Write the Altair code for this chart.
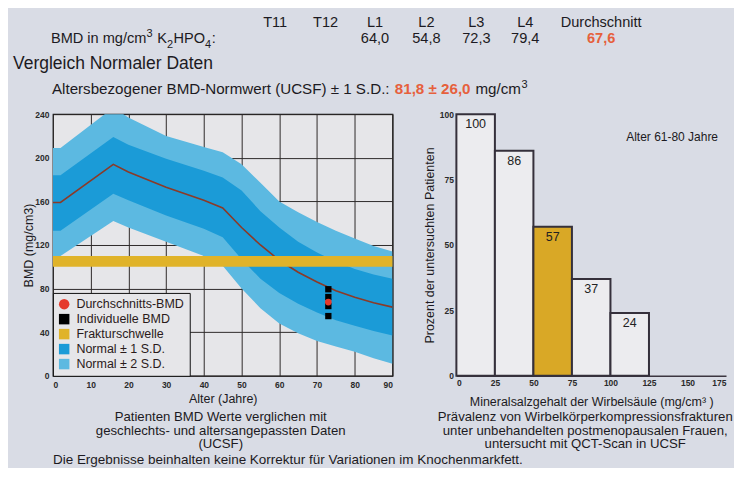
import altair as alt
import pandas as pd

FONT = "Liberation Sans, Arial, sans-serif"
BG = "#d9dce5"
PLOT_BG = "#e6e6e9"
TXT = "#1c1a22"
RED_TXT = "#e6603c"
SD1 = "#1b9bd7"
SD2 = "#5cb9e1"
YELLOW = "#e0b329"
MEAN = "#8b3a28"
RED_PT = "#e53a2c"
BAR_FILL = "#ececef"
BAR_HL = "#d9a826"
BAR_STROKE = "#35303b"

# ---------------- data ----------------
vertebrae = ["T11", "T12", "L1", "L2", "L3", "L4"]
vertebra_bmd = [None, None, 64.0, 54.8, 72.3, 79.4]
average_bmd = 67.6
norm_mean = 81.8
norm_sd = 26.0
patient_age = 73

ages = [0, 2, 16, 20, 30, 40, 45, 50, 55, 60, 65, 70, 75, 80, 85, 90]
mean_bmd = [159, 159, 194, 187, 173, 161, 154, 136, 120, 106, 95, 86, 78, 72, 67, 63]
sd1_high = [184, 184, 219, 212, 199, 188, 182, 170, 151, 136, 123, 113, 105, 98, 93, 89]
sd1_low = [133, 133, 167, 161, 147, 135, 127, 107, 89, 76, 66, 58, 51, 46, 41, 37]
sd2_high = [209, 209, 246, 237, 220, 210, 205, 194, 177, 160, 150, 141, 133, 126, 119, 114]
sd2_low = [110, 110, 142, 136, 123, 110, 101, 80, 62, 48, 39, 32, 27, 22, 16, 11]
fracture_low = 100
fracture_high = 110
age_range = [0, 90]

legend_labels = ["Durchschnitts-BMD", "Individuelle BMD", "Frakturschwelle",
                 "Normal \u00b1 1 S.D.", "Normal \u00b1 2 S.D."]
legend_colors = [RED_PT, "#000000", YELLOW, SD1, SD2]
legend_shapes = ["circle", "square", "square", "square", "square"]

bin_start = [0, 25, 50, 75, 100]
bin_end = [25, 50, 75, 100, 125]
prevalence = [100, 86, 57, 37, 24]
highlight_start = 50


def de(v):
    return f"{v:.1f}".replace(".", ",")


# Arial / Liberation Sans advance widths (1/1000 em) used to chain text pieces
ADV = {" ": 278, "(": 333, ")": 333, ",": 278, "-": 333, ".": 278, "/": 278, ":": 278,
       "\u00b1": 584, "A": 667, "B": 667, "C": 722, "D": 722, "F": 611, "H": 722, "K": 667,
       "M": 833, "N": 722, "O": 778, "P": 667, "S": 667, "U": 722, "a": 556, "b": 556,
       "c": 500, "e": 556, "g": 556, "i": 222, "l": 222, "m": 833, "n": 556, "o": 556,
       "r": 333, "s": 500, "t": 278, "w": 722, "z": 500}


def tw(s, size):
    return sum(ADV.get(ch, 556) for ch in s) * size / 1000.0


# ---------------- layout (pixels, relative to the left plot's origin) ----------------
LW, LH = 340, 262
RW, RH = 270, 262
dummy = pd.DataFrame({"k": [0]})


def label(txt, x, y, size, color=TXT, align="left", weight="normal"):
    return alt.Chart(dummy).mark_text(
        font=FONT, fontSize=size, color=color, align=align,
        baseline="alphabetic", fontWeight=weight
    ).encode(x=alt.value(x), y=alt.value(y), text=alt.value(txt))


# ---------------- left chart ----------------
bands = pd.DataFrame({"age": ages, "mean": mean_bmd, "l1": sd1_low, "h1": sd1_high,
                      "l2": sd2_low, "h2": sd2_high})

xax = alt.Axis(values=list(range(0, 91, 10)), grid=True, gridColor="#2e2a2a", gridWidth=1,
               ticks=False, domain=False, labelPadding=5, labelFontSize=8.5, labelOverlap=False,
               labelFontWeight="bold", labelColor="#2a2a2a", labelFont=FONT,
               titleFont=FONT, titleFontSize=12.5, titleFontWeight="normal", titleColor=TXT,
               titleY=27, titleBaseline="alphabetic")
yax = alt.Axis(values=list(range(0, 241, 40)), grid=True, gridColor="#2e2a2a", gridWidth=1,
               ticks=False, domain=False, labelPadding=4, labelFontSize=8.5, labelOverlap=False,
               labelFontWeight="bold", labelColor="#2a2a2a", labelFont=FONT,
               titleFont=FONT, titleFontSize=12.5, titleFontWeight="normal", titleColor=TXT,
               titleX=-20, titleBaseline="alphabetic")
xsc = alt.Scale(domain=[0, 90], nice=False)
ysc = alt.Scale(domain=[0, 240], nice=False)


def X(f):
    return alt.X(f, type="quantitative", scale=xsc, axis=xax, title="Alter (Jahre)")


def Y(f):
    return alt.Y(f, type="quantitative", scale=ysc, axis=yax, title="BMD (mg/cm3)")


base = alt.Chart(bands)
sd2 = base.mark_area(color=SD2, clip=True, opacity=1).encode(x=X("age"), y=Y("l2"), y2="h2")
sd1 = base.mark_area(color=SD1, clip=True, opacity=1).encode(x=X("age"), y=Y("l1"), y2="h1")
mean_line = base.mark_line(color=MEAN, strokeWidth=1.6, clip=True).encode(x=X("age"), y=Y("mean"))

frac_df = pd.DataFrame({"a0": [age_range[0]], "a1": [age_range[1]],
                        "lo": [fracture_low], "hi": [fracture_high]})
frac = alt.Chart(frac_df).mark_rect(color=YELLOW, opacity=1).encode(
    x=X("a0"), x2="a1", y=Y("lo"), y2="hi")

ind = pd.DataFrame({"age": [patient_age] * 4, "bmd": [v for v in vertebra_bmd if v is not None]})
squares = alt.Chart(ind).mark_square(color="#000000", size=40, opacity=1).encode(x=X("age"), y=Y("bmd"))
avg = alt.Chart(pd.DataFrame({"age": [patient_age], "bmd": [average_bmd]})).mark_circle(
    color=RED_PT, size=45, opacity=1).encode(x=X("age"), y=Y("bmd"))

legend_layer = alt.Chart(pd.DataFrame({"series": legend_labels})).mark_point(
    filled=True, clip=True, opacity=1).encode(
    x=alt.value(-500), y=alt.value(-500),
    color=alt.Color("series:N", title=None,
                    scale=alt.Scale(domain=legend_labels, range=legend_colors),
                    legend=alt.Legend(orient="bottom-left", offset=0, padding=5,
                                      fillColor=PLOT_BG, strokeColor="#111111",
                                      symbolSize=110, symbolStrokeWidth=0,
                                      labelFont=FONT, labelFontSize=12.5, labelColor="#2a1a1a",
                                      labelOffset=6, rowPadding=2, labelLimit=300)),
    shape=alt.Shape("series:N", title=None,
                    scale=alt.Scale(domain=legend_labels, range=legend_shapes)),
)

anchor = alt.Chart(dummy).mark_rect(opacity=0).encode(
    x=alt.value(-44), x2=alt.value(-43), y=alt.value(-105), y2=alt.value(-104))

texts = []
HS = 14.6  # header font size
vert_x = [222.5, 273, 322.5, 374, 424, 473]
for name, v, cx in zip(vertebrae, vertebra_bmd, vert_x):
    texts.append(label(name, cx, -87.5, HS, align="center"))
    if v is not None:
        texts.append(label(de(v), cx, -71.5, HS, align="center"))
texts.append(label("Durchschnitt", 549, -87.5, HS, align="center"))
texts.append(label(de(average_bmd), 549, -71.5, HS, color=RED_TXT, align="center", weight="bold"))

# "BMD in mg/cm3 K2HPO4:" built from pieces with super/subscripts
SS = 11
x = -2
pieces = [("BMD in mg/cm", HS, -71.5), ("3", SS, -77.5), (" ", HS, None), ("K", HS, -71.5),
          ("2", SS, -66.5), ("HPO", HS, -71.5), ("4", SS, -66.5), (":", HS, -71.5)]
for s, sz, yy in pieces:
    if yy is not None:
        texts.append(label(s, x, yy, sz))
    x += tw(s, sz) + (0.5 if sz == SS else 0)

texts.append(label("Vergleich Normaler Daten", -40, -45, 17.5))

AS = 15.2
black = "Altersbezogener BMD-Normwert (UCSF) \u00b1 1 S.D.:"
red = f"{de(norm_mean)} \u00b1 {de(norm_sd)}"
x = -1
texts.append(label(black, x, -20, AS))
x += tw(black + " ", AS)
texts.append(label(red, x, -20, AS, color=RED_TXT, weight="bold"))
x += tw(red + " ", AS)
texts.append(label("mg/cm", x, -20, AS))
x += tw("mg/cm", AS) + 0.5
texts.append(label("3", x, -26, 11))

CS = 13.2
texts += [
    label("Patienten BMD Werte verglichen mit", 168, 307.5, CS, align="center"),
    label("geschlechts- und altersangepassten Daten", 168, 321, CS, align="center"),
    label("(UCSF)", 168, 334.5, CS, align="center"),
    label("Pr\u00e4valenz von Wirbelk\u00f6rperkompressionsfrakturen", 533, 307.5, CS, align="center"),
    label("unter unbehandelten postmenopausalen Frauen,", 533, 321, CS, align="center"),
    label("untersucht mit QCT-Scan in UCSF", 533, 334.5, CS, align="center"),
    label("Die Ergebnisse beinhalten keine Korrektur f\u00fcr Variationen im Knochenmarkfett.",
          0, 350.5, 13.5),
]

left = alt.layer(sd2, sd1, mean_line, frac, squares, avg, legend_layer, anchor, *texts).properties(
    width=LW, height=LH,
    view=alt.ViewBackground(fill=PLOT_BG, stroke="#111111", strokeWidth=1.2))

# ---------------- right chart ----------------
bars_df = pd.DataFrame({"start": bin_start, "end": bin_end, "pct": prevalence})
bars_df["hl"] = [s == highlight_start for s in bin_start]

rxsc = alt.Scale(domain=[0, 175], nice=False)
rysc = alt.Scale(domain=[0, 100], nice=False)
rxax = alt.Axis(values=[0, 25, 50, 75, 100, 125, 150, 175], grid=False, ticks=False,
                domainColor="#3c3640", domainWidth=1.5, labelPadding=3, labelFontSize=8.5,
                labelOverlap=False,
                labelFontWeight="bold", labelColor="#2a2a2a", labelFont=FONT,
                titleFont=FONT, titleFontSize=12.5, titleFontWeight="normal", titleColor=TXT,
                titleY=30, titleBaseline="alphabetic")
ryax = alt.Axis(values=[0, 25, 50, 75, 100], grid=False, ticks=False,
                domainColor="#3c3640", domainWidth=1.5, labelPadding=3, labelFontSize=8.5,
                labelOverlap=False,
                labelFontWeight="bold", labelColor="#2a2a2a", labelFont=FONT,
                titleFont=FONT, titleFontSize=12.5, titleFontWeight="normal", titleColor=TXT,
                titleX=-23, titleBaseline="alphabetic")

rx_title = "Mineralsalzgehalt der Wirbels\u00e4ule (mg/cm\u00b3 )"
ry_title = "Prozent der untersuchten Patienten"

rbase = alt.Chart(bars_df)
bars = rbase.mark_rect(stroke=BAR_STROKE, strokeWidth=2).encode(
    x=alt.X("start:Q", scale=rxsc, axis=rxax, title=rx_title),
    x2="end:Q",
    y=alt.Y("pct:Q", scale=rysc, axis=ryax, title=ry_title),
    y2=alt.datum(0),
    fill=alt.condition("datum.hl", alt.value(BAR_HL), alt.value(BAR_FILL)),
)
bar_text = rbase.transform_calculate(mid="(datum.start + datum.end) / 2").mark_text(
    baseline="top", dy=4, font=FONT, fontSize=12.5, color="#222222").encode(
    x=alt.X("mid:Q", scale=rxsc, axis=rxax, title=rx_title),
    y=alt.Y("pct:Q", scale=rysc, axis=ryax, title=ry_title),
    text=alt.Text("pct:Q"),
)
age_note = alt.Chart(dummy).mark_text(
    font=FONT, fontSize=12, color=TXT, align="right", baseline="alphabetic").encode(
    x=alt.value(262), y=alt.value(27), text=alt.value("Alter 61-80 Jahre"))

right = alt.layer(bars, bar_text, age_note).properties(
    width=RW, height=RH, view=alt.ViewBackground(stroke=None, fill=None))

chart = alt.hconcat(left, right, spacing=64, bounds="flush").properties(
    padding=0, background=BG
).configure_view(strokeWidth=1.2)

chart.save("out.html", embed_options={"renderer": "svg", "actions": False})
